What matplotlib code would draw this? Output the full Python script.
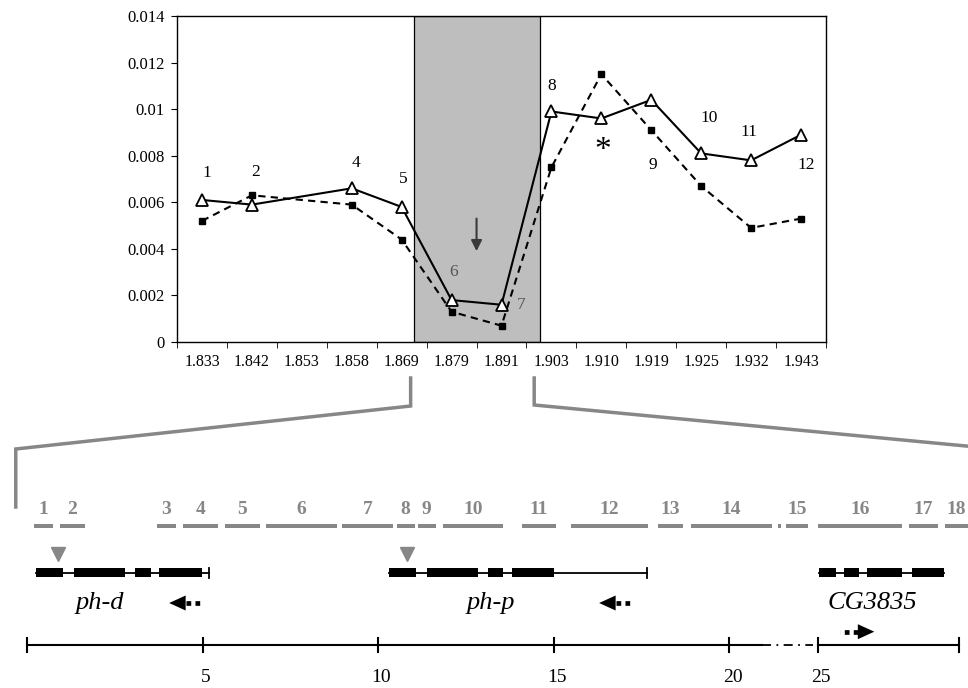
import numpy as np
import matplotlib
matplotlib.use("Agg")
import matplotlib.pyplot as plt
from matplotlib.ticker import FixedLocator, FuncFormatter

plt.rcParams["font.family"] = ["Liberation Serif", "DejaVu Serif"]

# ---- top chart data ----
positions = ["1.833", "1.842", "1.853", "1.858", "1.869", "1.879", "1.891",
             "1.903", "1.910", "1.919", "1.925", "1.932", "1.943"]
triangle_vals = [0.0061, 0.0059, np.nan, 0.0066, 0.0058, 0.0018, 0.0016,
                 0.0099, 0.0096, 0.0104, 0.0081, 0.0078, 0.0089]
square_vals = [0.0052, 0.0063, np.nan, 0.0059, 0.0044, 0.0013, 0.0007,
               0.0075, 0.0115, 0.0091, 0.0067, 0.0049, 0.0053]
shade_span = (4.25, 6.77)  # category units
point_labels = ["1", "2", "4", "5", "6", "7", "8", "9", "10", "11", "12"]
point_label_xy = [(0.1, 0.00726), (1.08, 0.0073), (3.09, 0.0077), (4.03, 0.0070),
                  (5.03, 0.0030), (6.39, 0.0016), (7.0, 0.0110), (9.04, 0.0076),
                  (10.16, 0.0096), (10.96, 0.0090), (12.1, 0.0076)]

# ---- bottom map data (kb along the drawn map, break compressed) ----
frag_labels = [str(i) for i in range(1, 19)]
frag_start = [0.21, 0.94, 3.70, 4.44, 5.64, 6.80, 8.98, 10.53, 11.13, 11.86,
              14.09, 15.49, 17.97, 18.92, 21.62, 22.54, 25.14, 26.15]
frag_end = [0.73, 1.64, 4.24, 5.43, 6.64, 8.84, 10.44, 11.05, 11.65, 13.55,
            15.08, 17.70, 18.70, 21.22, 22.24, 24.94, 25.95, 27.20]

genes = ["ph-d", "ph-p", "CG3835"]
gene_exons = [
    [(0.25, 1.03), (1.33, 2.78), (3.07, 3.52), (3.76, 4.99)],
    [(10.32, 11.07), (11.40, 12.85), (13.13, 13.57), (13.81, 15.01)],
    [(22.57, 23.05), (23.28, 23.70), (23.93, 24.92), (25.20, 26.13)],
]
gene_end = [5.19, 17.66, None]          # 3' UTR line end with a bar
gene_label_x = [2.08, 13.22, 24.07]
gene_arrow = [(4.05, 4.99), (16.30, 17.26), (24.14, 23.16)]  # (tip, tail)
insert_sites = [0.89, 10.83]

scale_ticks = [0, 5, 10, 15, 20, 22.53, 26.55]
scale_labels = ["", "5", "10", "15", "20", "25", ""]
scale_break = (20.93, 22.39)

W, H = 968, 688
fig = plt.figure(figsize=(W / 100, H / 100), dpi=100)

# ---------- schematic (full-figure overlay) ----------
PX = 35.1
x0_px = 27
sx = fig.add_axes([0, 0, 1, 1])
sx.set_xlim(-x0_px / PX, (W - x0_px) / PX)
sx.set_ylim(H, 0)
sx.axis("off")

gray = "#878787"
# zoom lines from the chart
sx.plot([10.93, 10.93, -0.32, -0.32], [378, 406, 449, 507], color=gray, lw=2.5,
        solid_joinstyle="miter")
sx.plot([14.45, 14.45, 27.5], [378, 405, 448.5], color=gray, lw=2.5,
        solid_joinstyle="miter")

# fragments
sx.broken_barh([(s, e - s) for s, e in zip(frag_start, frag_end)], (523.7, 4.6),
               facecolors=gray)
sx.broken_barh([(21.40, 0.08)], (523.7, 4.6), facecolors=gray)
for lab, s, e in zip(frag_labels, frag_start, frag_end):
    e = min(e, 26.81)
    sx.text((s + e) / 2, 509, lab, ha="center", va="center", fontsize=14,
            fontweight="bold", color=gray)

# insertion triangles
sx.plot(insert_sites, [554] * len(insert_sites), "v", color=gray, ms=10)

# genes
gy = 572.7
for exons, end, lx, (tip, tail), name in zip(gene_exons, gene_end, gene_label_x,
                                            gene_arrow, genes):
    right = end if end is not None else exons[-1][1]
    sx.plot([exons[0][0], right], [gy, gy], color="black", lw=1.3)
    if end is not None:
        sx.plot([end, end], [gy - 5, gy + 5], color="black", lw=1.3)
    sx.broken_barh([(s, e - s) for s, e in exons], (gy - 4.5, 9), facecolors="black")
    sx.text(lx, 603, name, ha="center", va="center", fontsize=19, style="italic")
    ay = 603 if tip < tail else 631.7
    d = 1 if tail > tip else -1
    base = tip + d * 0.47
    sx.fill([tip, base, base], [ay, ay - 7.5, ay + 7.5], color="black", lw=0)
    sx.plot([base, tail], [ay, ay], color="black", lw=3.4, linestyle=(0, (1.0, 0.9)))

# scale bar
sy = 645
sx.plot([scale_ticks[0], scale_break[0]], [sy, sy], color="black", lw=1.5)
sx.plot([scale_break[0], scale_break[1]], [sy, sy], color="black", lw=1.3,
        linestyle=(0, (5, 3, 1, 3)))
sx.plot([scale_ticks[5], scale_ticks[-1]], [sy, sy], color="black", lw=1.5)
for t, lab in zip(scale_ticks, scale_labels):
    sx.plot([t, t], [sy - 7, sy + 7], color="black", lw=1.5)
    if lab:
        sx.text(t + 0.1, 677, lab, ha="center", va="center", fontsize=14)

# ---------- top chart ----------
ax = fig.add_axes([177 / W, 1 - 342 / H, (826 - 177) / W, (342 - 16) / H])
x = np.arange(len(positions))
tv = np.array(triangle_vals)
sv = np.array(square_vals)
mt = np.isfinite(tv)
ms = np.isfinite(sv)

ax.axvspan(*shade_span, facecolor="#bebebe", edgecolor="black", lw=0.9, zorder=0)
ax.plot(x[ms], sv[ms], color="black", lw=1.5, linestyle=(0, (3.5, 2.5)),
        marker="s", ms=4.5, mfc="black", mec="black", zorder=2)
ax.plot(x[mt], tv[mt], color="black", lw=1.5, marker="^", ms=8,
        mfc="white", mec="black", mew=1.3, zorder=3)

for lab, (lx, ly) in zip(point_labels, point_label_xy):
    col = "#555555" if lab in ("6", "7") else "black"
    ax.text(lx, ly, lab, ha="center", va="center", fontsize=12.5, color=col)
ax.text(8.02, 0.0082, "*", ha="center", va="center", fontsize=24)
ax.annotate("", xy=(5.5, 0.0039), xytext=(5.5, 0.0053),
            arrowprops=dict(arrowstyle="-|>", color="#3a3a3a", lw=1.5,
                            mutation_scale=16, shrinkA=0, shrinkB=0))

ax.set_xlim(-0.5, len(positions) - 0.5)
ax.set_ylim(0, 0.014)
ax.set_xticks(x)
ax.set_xticklabels(positions, fontsize=11.5)
ax.tick_params(axis="x", which="major", length=0, pad=9)
ax.xaxis.set_minor_locator(FixedLocator(np.arange(-0.5, len(positions), 1)))
ax.tick_params(axis="x", which="minor", length=4, direction="out")
ax.set_yticks(np.arange(0, 0.0141, 0.002))
ax.yaxis.set_major_formatter(FuncFormatter(lambda v, p: "%g" % round(v, 4)))
ax.tick_params(axis="y", labelsize=12, length=4, direction="out", pad=5)
for s in ax.spines.values():
    s.set_linewidth(1.0)

fig.savefig("out.png", dpi=100)
